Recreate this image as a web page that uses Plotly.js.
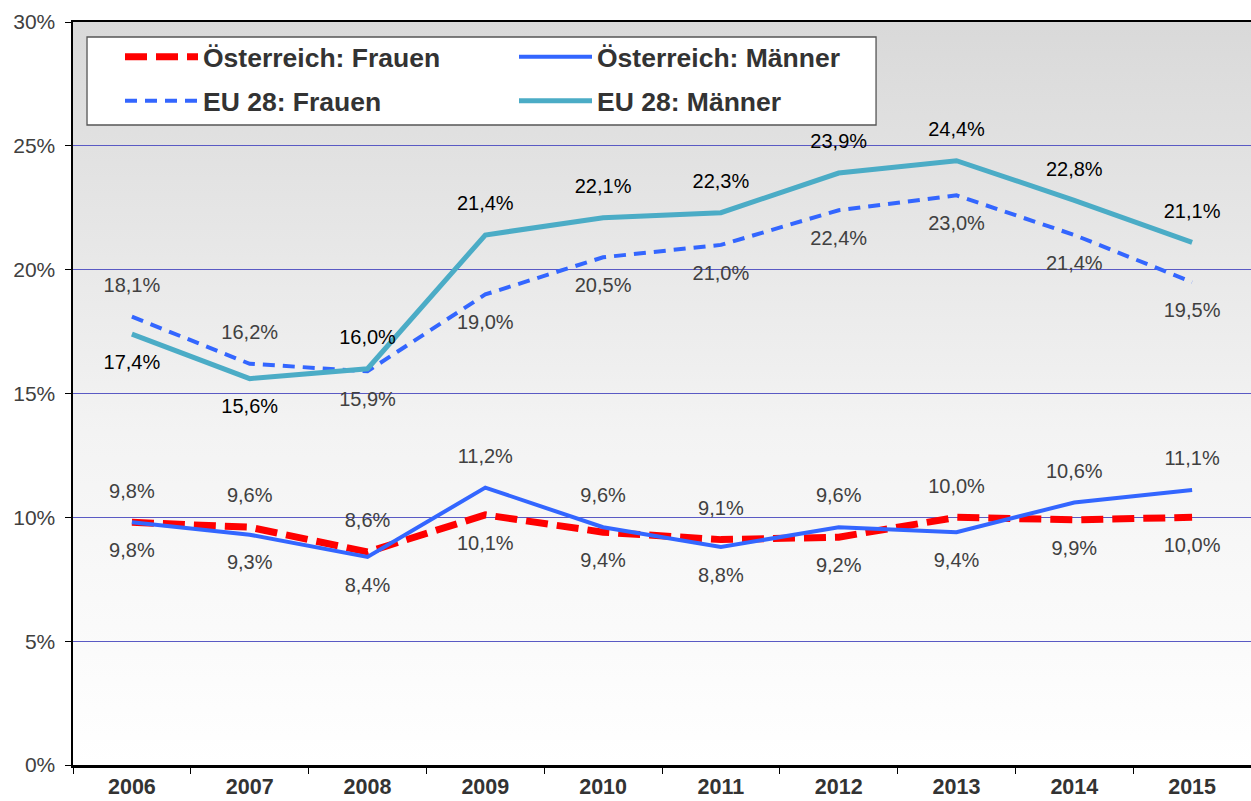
<!DOCTYPE html>
<html>
<head>
<meta charset="utf-8">
<script src="https://cdn.plot.ly/plotly-3.0.1.min.js"></script>
<style>
html,body{margin:0;padding:0;background:#fff;}
#chart{width:1251px;height:801px;}
</style>
</head>
<body>
<div id="chart"></div>
<script>
// ---- data ----
const years = ["2006","2007","2008","2009","2010","2011","2012","2013","2014","2015"];
const atFrauen = [9.8, 9.6, 8.6, 10.1, 9.4, 9.1, 9.2, 10.0, 9.9, 10.0];
const atMaenner = [9.8, 9.3, 8.4, 11.2, 9.6, 8.8, 9.6, 9.4, 10.6, 11.1];
const euFrauen = [18.1, 16.2, 15.9, 19.0, 20.5, 21.0, 22.4, 23.0, 21.4, 19.5];
const euMaenner = [17.4, 15.6, 16.0, 21.4, 22.1, 22.3, 23.9, 24.4, 22.8, 21.1];
const seriesNames = ["Österreich: Frauen", "Österreich: Männer", "EU 28: Frauen", "EU 28: Männer"];

// label placement (above / below)
const posAtFrauen = ["top center","top center","top center","bottom center","bottom center","top center","bottom center","top center","bottom center","bottom center"];
const posAtMaenner = ["bottom center","bottom center","bottom center","top center","top center","bottom center","top center","bottom center","top center","top center"];
const posEuFrauen = ["top center","top center","bottom center","bottom center","bottom center","bottom center","bottom center","bottom center","bottom center","bottom center"];
const posEuMaenner = ["bottom center","bottom center","top center","top center","top center","top center","top center","top center","top center","top center"];

const FONT = 'Liberation Sans, Arial, sans-serif';
const fmt = v => v.toFixed(1).replace('.', ',') + '%';

function tr(name, vals, pos, color, width, dash, labelColor, legendId) {
  return {
    type: 'scatter', mode: 'lines+markers+text', name: name, legend: legendId,
    x: years, y: vals, text: vals.map(fmt), textposition: pos,
    textfont: {family: FONT, size: 20, color: labelColor},
    line: {color: color, width: width, dash: dash},
    marker: {size: 30, color: 'rgba(0,0,0,0)', line: {width: 0}},
    cliponaxis: false, hoverinfo: 'skip'
  };
}

const data = [
  tr(seriesNames[0], atFrauen, posAtFrauen, '#ff0000', 7, '22px,9px', '#404040', 'legend'),
  tr(seriesNames[1], atMaenner, posAtMaenner, '#3366ff', 4, 'solid', '#404040', 'legend'),
  tr(seriesNames[2], euFrauen, posEuFrauen, '#3366ff', 4, '12px,8px', '#404040', 'legend2'),
  tr(seriesNames[3], euMaenner, posEuMaenner, '#4bacc6', 5, 'solid', '#000000', 'legend2')
];

const gradSvg = "<svg xmlns='http://www.w3.org/2000/svg' width='100' height='100' preserveAspectRatio='none'>" +
  "<defs><linearGradient id='g' x1='0' y1='0' x2='0' y2='1'>" +
  "<stop offset='0' stop-color='#d9d9d9'/><stop offset='0.55' stop-color='#f3f3f3'/><stop offset='1' stop-color='#ffffff'/>" +
  "</linearGradient></defs><rect width='100' height='100' fill='url(#g)'/></svg>";

const legendStyle = {
  orientation: 'h', xanchor: 'left', yanchor: 'top',
  bgcolor: 'rgba(0,0,0,0)', borderwidth: 0,
  entrywidth: 306, entrywidthmode: 'pixels', itemwidth: 73,
  font: {family: FONT, size: 26.5, color: '#333333', weight: 'bold'},
  traceorder: 'normal'
};

const layout = {
  width: 1251, height: 801,
  margin: {l: 73, r: 0, t: 22, b: 36},
  paper_bgcolor: '#ffffff', plot_bgcolor: 'rgba(0,0,0,0)',
  font: {family: FONT, color: '#404040'},
  images: [{
    source: 'data:image/svg+xml;charset=utf-8,' + encodeURIComponent(gradSvg),
    xref: 'paper', yref: 'paper', x: 0, y: 1, sizex: 1, sizey: 1,
    xanchor: 'left', yanchor: 'top', sizing: 'stretch', layer: 'below'
  }],
  shapes: [{
    type: 'rect', xref: 'paper', yref: 'paper',
    x0: 0.0119, x1: 0.6817, y0: 0.8614, y1: 0.9798,
    fillcolor: '#ffffff', line: {color: '#555555', width: 1.3}, layer: 'above'
  }],
  xaxis: {
    type: 'category', range: [-0.5, 9.5], tickson: 'boundaries',
    ticks: 'outside', ticklen: 6, tickwidth: 1, tickcolor: '#000',
    showline: true, linecolor: '#000', linewidth: 2.5, mirror: true,
    showgrid: false, fixedrange: true, ticklabelstandoff: 1,
    tickfont: {size: 21.5, color: '#333333', family: FONT, weight: 'bold'}
  },
  yaxis: {
    range: [0, 30], dtick: 5, ticksuffix: '%',
    ticks: 'outside', ticklen: 6, tickwidth: 1, tickcolor: '#000',
    showline: true, linecolor: '#000', linewidth: 2.5,
    showgrid: true, gridcolor: '#5a5ac4', gridwidth: 1, zeroline: false,
    fixedrange: true, ticklabelstandoff: 5,
    tickfont: {size: 21, color: '#404040', family: FONT}
  },
  showlegend: true,
  legend: Object.assign({}, legendStyle, {x: 0.0399, y: 0.9852}),
  legend2: Object.assign({}, legendStyle, {x: 0.0399, y: 0.9260})
};

Plotly.newPlot('chart', data, layout, {displayModeBar: false, staticPlot: true});
</script>
</body>
</html>
